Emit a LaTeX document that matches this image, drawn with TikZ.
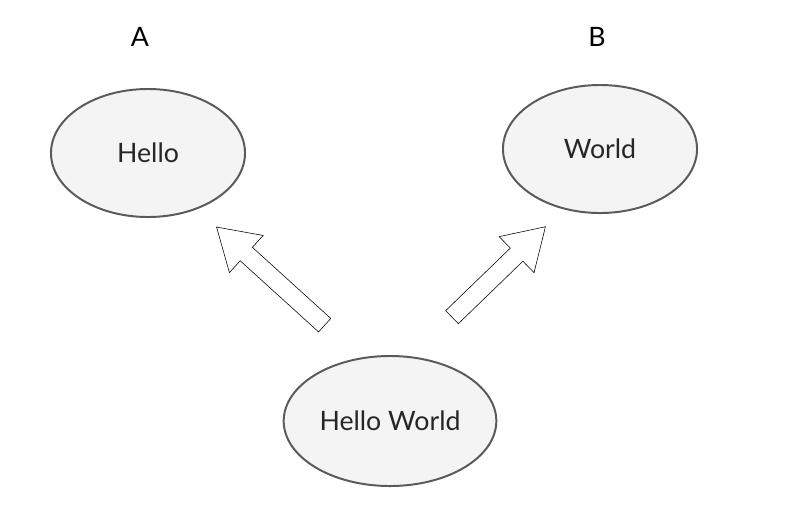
\documentclass[tikz,border=0pt]{standalone}
\usepackage{fontspec}
\setmainfont{Lato}
\usetikzlibrary{shapes.geometric,shapes.arrows,positioning}
\definecolor{bubble}{HTML}{F4F4F4}
\definecolor{rim}{HTML}{5A5A5A}
\begin{document}
\begin{tikzpicture}[x=0.025cm,y=-0.025cm]
	\tikzstyle{Word}  = [ellipse, draw=rim, line width=1.4pt, fill=bubble, minimum width=4.85cm, minimum height=3.2cm, font=\fontsize{19}{22}\selectfont, text=black!85]
	\tikzstyle{Tag}   = [font=\fontsize{19}{22}\selectfont]
	\tikzstyle{Block} = [single arrow, draw, thin, fill=white, inner sep=0.22cm, single arrow tip angle=64, single arrow head extend=0.4cm, allow upside down, sloped]

	\useasboundingbox (0,0) rectangle (800,509);

	\node (hello) at (148,153) [Word] {Hello};
	\node (world) at (600,149) [Word] {World};
	\node (both) at (390,421) [Word, minimum height=3.25cm] {Hello World};
	\node (a) at (140,37) [Tag] {A};
	\node (b) at (597,37) [Tag] {B};

	\coordinate (t1) at (330,330);
	\coordinate (h1) at (222,232);
	\coordinate (t2) at (447,322);
	\coordinate (h2) at (540,232);

	\path (t1) -- (h1) node [midway, Block, minimum height=3.65cm] {};
	\path (t2) -- (h2) node [midway, Block, minimum height=3.25cm] {};
\end{tikzpicture}
\end{document}
